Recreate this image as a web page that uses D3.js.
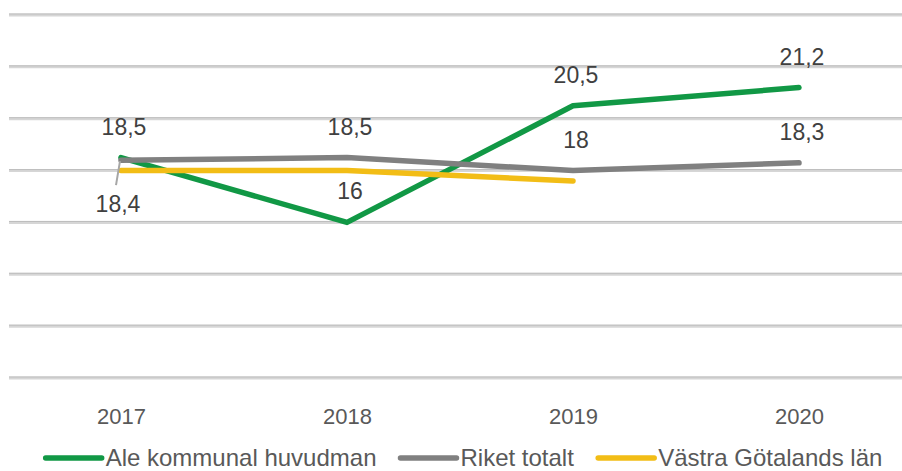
<!DOCTYPE html>
<html>
<head>
<meta charset="utf-8">
<script src="https://cdn.jsdelivr.net/npm/d3@7"></script>
<style>
  body { margin: 0; background: #fff; }
  text { font-family: "Liberation Sans", Arial, sans-serif; }
</style>
</head>
<body>
<script>
// chart data
var years = ["2017", "2018", "2019", "2020"];
var seriesNames = ["Ale kommunal huvudman", "Riket totalt", "Västra Götalands län"];
var aleValues = [18.5, 16, 20.5, 21.2];
var riketValues = [18.4, 18.5, 18, 18.3];
var vgValues = [18, 18, 17.6, null];
var yTicks = [10, 12, 14, 16, 18, 20, 22, 24];

var colors = ["#119845", "#808080", "#f2bd16"];

var width = 902, height = 471;

var svg = d3.select("body").append("svg")
  .attr("width", width)
  .attr("height", height);

var x = d3.scalePoint().domain(years).range([8, 912]).padding(0.5);
var y = d3.scaleLinear().domain([10, 24]).range([378, 15]);

// gridlines
var grid = svg.append("g");
grid.selectAll("line.g1")
  .data(yTicks).enter().append("line")
  .attr("x1", 9).attr("x2", width)
  .attr("y1", function(d) { return y(d); })
  .attr("y2", function(d) { return y(d); })
  .attr("stroke", "#d6d6d6").attr("stroke-width", 3);
grid.selectAll("line.g2")
  .data(yTicks).enter().append("line")
  .attr("x1", 9).attr("x2", width)
  .attr("y1", function(d) { return y(d) - 1; })
  .attr("y2", function(d) { return y(d) - 1; })
  .attr("stroke", "#bdbdbd").attr("stroke-width", 1);

// x axis labels
svg.append("g")
  .attr("transform", "translate(0,378)")
  .call(d3.axisBottom(x).tickSize(0).tickPadding(30))
  .call(function(g) { g.select(".domain").remove(); })
  .selectAll("text")
  .attr("font-size", 22)
  .attr("fill", "#595959")
  .attr("font-family", "Liberation Sans, Arial, sans-serif");

// lines
var allSeries = [aleValues, riketValues, vgValues];
var line = d3.line()
  .defined(function(d) { return d != null; })
  .x(function(d, i) { return x(years[i]); })
  .y(function(d) { return y(d); });

svg.selectAll("path.series")
  .data(allSeries).enter().append("path")
  .attr("class", "series")
  .attr("d", line)
  .attr("fill", "none")
  .attr("stroke", function(d, i) { return colors[i]; })
  .attr("stroke-width", 5.5)
  .attr("stroke-linecap", "round")
  .attr("stroke-linejoin", "round");

// data labels (Ale and Riket only); Riket 2017 sits below with a leader line
var labelData = [];
aleValues.forEach(function(v, i) { labelData.push({ v: v, i: i, below: false }); });
riketValues.forEach(function(v, i) { labelData.push({ v: v, i: i, below: i === 0 }); });

function fmt(v) { return String(v).replace(".", ","); }

var lbl = svg.append("g");
labelData.filter(function(d) { return d.below; }).forEach(function(d) {
  lbl.append("line")
    .attr("x1", x(years[d.i]) - 1).attr("y1", y(d.v) + 1)
    .attr("x2", x(years[d.i]) - 5).attr("y2", y(d.v) + 25)
    .attr("stroke", "#a6a6a6").attr("stroke-width", 2);
});
lbl.selectAll("text")
  .data(labelData).enter().append("text")
  .attr("x", function(d) { return x(years[d.i]) + (d.below ? -3 : 3); })
  .attr("y", function(d) { return y(d.v) + (d.below ? 52 : -23); })
  .attr("text-anchor", "middle")
  .attr("font-size", 23)
  .attr("fill", "#404040")
  .text(function(d) { return fmt(d.v); });

// legend
var legend = svg.append("g");
var items = legend.selectAll("g")
  .data(seriesNames).enter().append("g");
items.append("line")
  .attr("x1", 0).attr("x2", 56).attr("y1", 0).attr("y2", 0)
  .attr("stroke", function(d, i) { return colors[i]; })
  .attr("stroke-width", 5.5)
  .attr("stroke-linecap", "round");
items.append("text")
  .attr("x", 60).attr("y", 8)
  .attr("font-size", 24)
  .attr("fill", "#595959")
  .text(function(d) { return d; });

var xpos = 0, widths = [];
items.each(function() {
  widths.push(this.getBBox().width);
});
var total = d3.sum(widths) + 24 * (widths.length - 1);
var start = 464 - total / 2;
items.attr("transform", function(d, i) {
  var px = start + xpos;
  xpos += widths[i] + 24;
  return "translate(" + px + ",458)";
});
</script>
</body>
</html>
